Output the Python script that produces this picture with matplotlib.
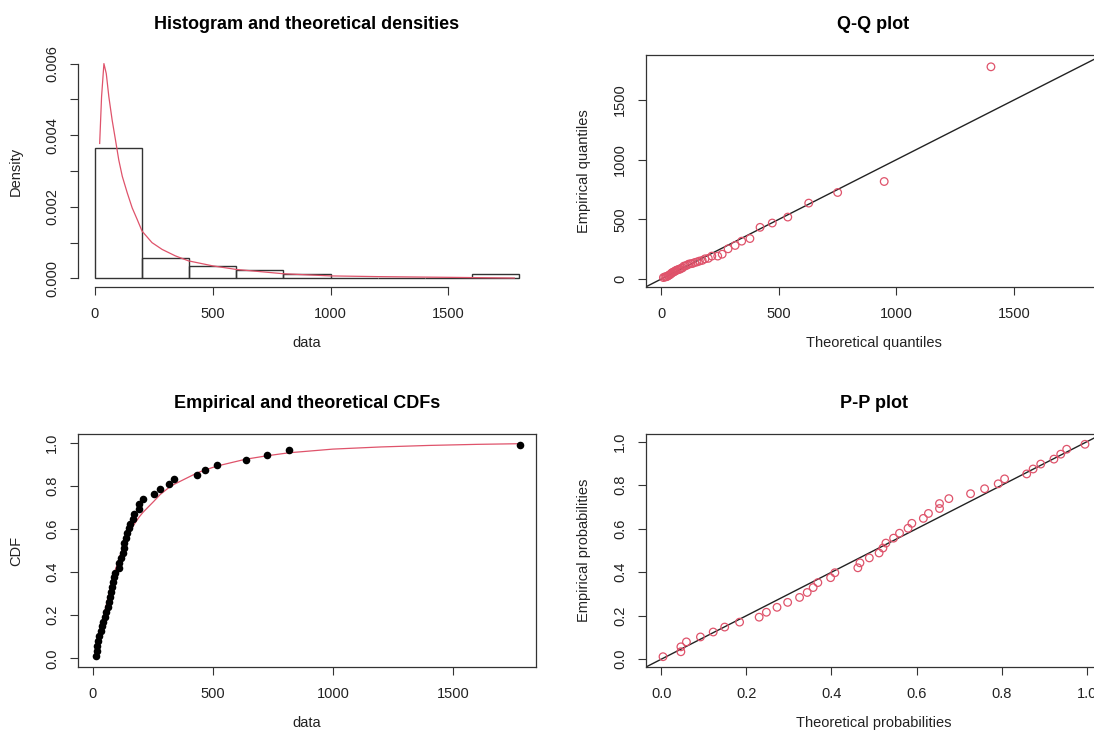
#!/usr/bin/env python3
"""
Four-panel goodness-of-fit figure (density / Q-Q / CDF / P-P),
R fitdistrplus style. Writes out.png
"""
import matplotlib
matplotlib.use("Agg")
import matplotlib.pyplot as plt
import numpy as np

plt.rcParams['font.family'] = ['Liberation Sans', 'DejaVu Sans']

# ---- data ----
data = [12, 18, 18, 21, 27, 32, 37, 43, 52, 56, 61, 66, 72, 76, 80, 82,
        90, 93, 108, 110, 117, 125, 128, 130, 138, 143, 150, 156, 169, 173,
        192, 192, 208, 253, 281, 317, 339, 433, 469, 519, 636, 725, 817, 1778]
hist_breaks = [0, 200, 400, 600, 800, 1000, 1200, 1400, 1600, 1800]

# fitted density curve (red) on the histogram panel
dens_x = [20, 28, 38, 48, 59, 73, 87, 101, 116, 137, 158, 179, 200, 242,
          285, 341, 397, 500, 600, 800, 1000, 1200, 1500, 1780]
dens_y = [0.00377, 0.00507, 0.00600, 0.00572, 0.00507, 0.00442, 0.00387,
          0.00331, 0.00285, 0.00239, 0.00197, 0.00165, 0.00132, 0.00100,
          0.00081, 0.00063, 0.00049, 0.00035, 0.00025, 0.00013, 0.00007,
          0.00005, 0.00003, 0.00001]

# fitted CDF curve (red) on the CDF panel
cdf_x = [12, 18, 21, 27, 32, 37, 43, 52, 61, 72, 82, 93, 110, 125, 138, 150,
         169, 192, 208, 253, 281, 317, 339, 433, 469, 519, 636, 725, 817,
         1000, 1200, 1400, 1600, 1778]
cdf_y = [0.004, 0.040, 0.058, 0.092, 0.122, 0.150, 0.184, 0.230, 0.272,
         0.322, 0.366, 0.408, 0.467, 0.512, 0.546, 0.578, 0.616, 0.654,
         0.676, 0.727, 0.760, 0.792, 0.807, 0.859, 0.874, 0.892, 0.923,
         0.939, 0.953, 0.970, 0.980, 0.987, 0.992, 0.995]

# theoretical quantiles (Q-Q x axis)
qq_theo = [9, 15, 20, 24, 29, 33, 37, 41, 45, 50, 54, 59, 63, 68, 73, 79,
           84, 90, 96, 103, 110, 117, 125, 133, 142, 152, 162, 174, 186, 200,
           215, 240, 259, 284, 314, 342, 377, 420, 472, 538, 627, 750, 948,
           1402]

# theoretical probabilities (P-P x axis)
pp_theo = [0.004, 0.046, 0.046, 0.059, 0.092, 0.122, 0.149, 0.184, 0.230,
           0.247, 0.272, 0.297, 0.325, 0.343, 0.357, 0.368, 0.398, 0.408,
           0.462, 0.467, 0.489, 0.512, 0.521, 0.528, 0.546, 0.560, 0.580,
           0.589, 0.616, 0.628, 0.654, 0.654, 0.676, 0.727, 0.760, 0.792,
           0.807, 0.859, 0.874, 0.892, 0.923, 0.939, 0.953, 0.996]

n = len(data)
emp_prob = (np.arange(1, n + 1) - 0.5) / n   # plotting positions

RED = '#DF536B'
INK = '#333333'
W, H = 1094, 731

fig = plt.figure(figsize=(W / 100, H / 100), dpi=100)


def add_axes(x0, top, x1, bottom):
    return fig.add_axes([x0 / W, 1 - bottom / H, (x1 - x0) / W, (bottom - top) / H])


def r_style(ax, title, xlabel, ylabel, box=True):
    for s in ax.spines.values():
        s.set_color(INK)
        s.set_linewidth(0.9)
        s.set_visible(box)
    ax.tick_params(direction='out', length=5.5, width=0.8, color=INK,
                   labelsize=10.5, labelcolor='#222222')
    ax.tick_params(axis='x', pad=9)
    ax.tick_params(axis='y', pad=8, labelrotation=90)
    for lab in ax.get_yticklabels():
        lab.set_va('center')
    ax.set_title(title, fontsize=13, fontweight='bold', pad=19)
    ax.set_xlabel(xlabel, fontsize=10.5, color='#222222')
    ax.set_ylabel(ylabel, fontsize=10.5, color='#222222')
    ax.xaxis.label.set_va('center')
    ax.yaxis.label.set_va('center')
    bbox = ax.get_position()
    wpx, hpx = bbox.width * W, bbox.height * H
    ax.xaxis.set_label_coords(0.5, -56 / hpx)
    ax.yaxis.set_label_coords(-62 / wpx, 0.5)


# ========== Histogram and theoretical densities ==========
ax1 = add_axes(78, 55, 536, 287)
ax1.hist(data, bins=hist_breaks, density=True, facecolor='none',
         edgecolor=INK, linewidth=1.0)
ax1.plot(dens_x, dens_y, color=RED, lw=0.9)
ax1.set_xlim(-72, 1872)
ax1.set_ylim(-0.00024, 0.00624)
ax1.set_xticks([0, 500, 1000, 1500])
ax1.set_yticks([0, 0.001, 0.002, 0.003, 0.004, 0.005, 0.006])
ax1.set_yticklabels(['0.000', '', '0.002', '', '0.004', '', '0.006'])
r_style(ax1, 'Histogram and theoretical densities', 'data', 'Density', box=False)
ax1.spines['left'].set_visible(True)
ax1.spines['bottom'].set_visible(True)
ax1.spines['left'].set_bounds(0, 0.006)
ax1.spines['bottom'].set_bounds(0, 1500)

# ========== Q-Q plot ==========
ax2 = add_axes(646, 55, 1101, 287)
ax2.scatter(qq_theo, data, s=30, facecolors='none', edgecolors=RED,
            linewidths=0.9, zorder=3)
ax2.axline((0, 0), slope=1, color='#222222', lw=1.0)
ax2.set_xlim(-65, 1870)
ax2.set_ylim(-67, 1877)
ax2.set_xticks([0, 500, 1000, 1500])
ax2.set_yticks([0, 500, 1000, 1500])
r_style(ax2, 'Q-Q plot', 'Theoretical quantiles', 'Empirical quantiles')

# ========== Empirical and theoretical CDFs ==========
ax3 = add_axes(78, 434, 536, 667)
ax3.plot(cdf_x, cdf_y, color=RED, lw=0.9, zorder=2)
ax3.scatter(data, emp_prob, s=30, color='black', linewidths=0, zorder=3)
ax3.set_xlim(-62, 1846)
ax3.set_ylim(-0.04, 1.04)
ax3.set_xticks([0, 500, 1000, 1500])
ax3.set_yticks([0, 0.2, 0.4, 0.6, 0.8, 1.0])
ax3.set_yticklabels(['0.0', '0.2', '0.4', '0.6', '0.8', '1.0'])
r_style(ax3, 'Empirical and theoretical CDFs', 'data', 'CDF')

# ========== P-P plot ==========
ax4 = add_axes(646, 434, 1102, 667)
ax4.scatter(pp_theo, emp_prob, s=30, facecolors='none', edgecolors=RED,
            linewidths=0.9, zorder=3)
ax4.axline((0, 0), slope=1, color='#222222', lw=1.0)
ax4.set_xlim(-0.036, 1.036)
ax4.set_ylim(-0.036, 1.036)
ax4.set_xticks([0, 0.2, 0.4, 0.6, 0.8, 1.0])
ax4.set_xticklabels(['0.0', '0.2', '0.4', '0.6', '0.8', '1.0'])
ax4.set_yticks([0, 0.2, 0.4, 0.6, 0.8, 1.0])
ax4.set_yticklabels(['0.0', '0.2', '0.4', '0.6', '0.8', '1.0'])
r_style(ax4, 'P-P plot', 'Theoretical probabilities', 'Empirical probabilities')

fig.savefig('out.png', dpi=100)
print("Wrote out.png")
